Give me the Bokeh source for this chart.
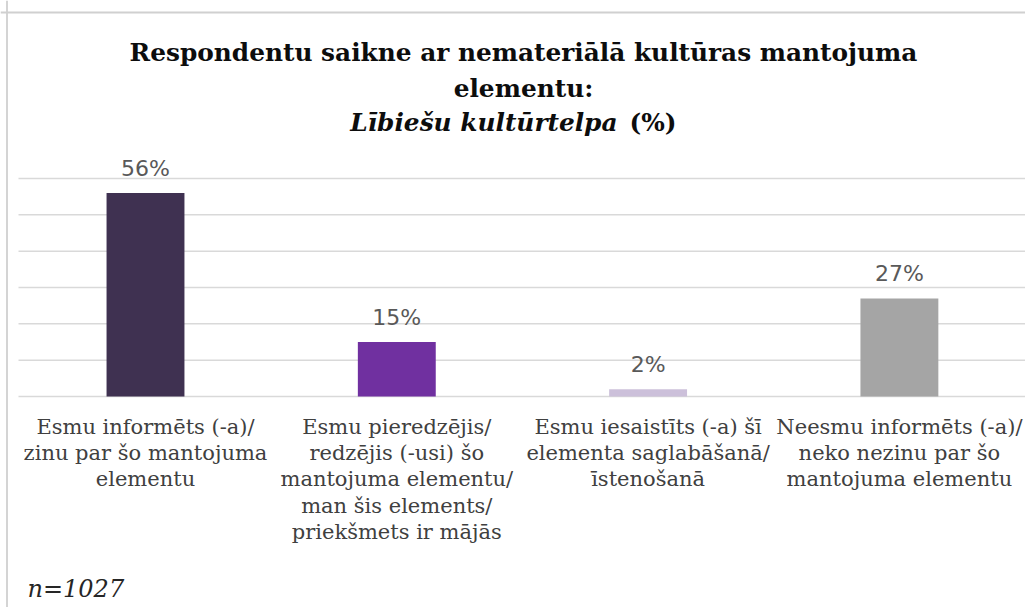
from bokeh.plotting import figure
from bokeh.models import Range1d, Label, Span, ColumnDataSource
from bokeh.core.properties import value
from bokeh.embed import file_html
from bokeh.resources import INLINE

# ---- data ----
categories = [
    "Esmu informēts (-a)/\nzinu par šo mantojuma\nelementu",
    "Esmu pieredzējis/\nredzējis (-usi) šo\nmantojuma elementu/\nman šis elements/\npriekšmets ir mājās",
    "Esmu iesaistīts (-a) šī\nelementa saglabāšanā/\nīstenošanā",
    "Neesmu informēts (-a)/\nneko nezinu par šo\nmantojuma elementu",
]
values = [56, 15, 2, 27]
value_labels = ["56%", "15%", "2%", "27%"]
bar_colors = ["#3F3151", "#7030A0", "#CCC0DA", "#A5A5A5"]
grid_ticks = [0, 10, 20, 30, 40, 50, 60]
title_line1 = "Respondentu saikne ar nemateriālā kultūras mantojuma"
title_line2 = "elementu:"
title_italic = "Lībiešu kultūrtelpa"
title_tail = "(%)"
note = "n=1027"

# ---- layout (pixel geometry of the canvas) ----
W, H = 1025, 607
XS = 251.3            # px per category
X0 = -145.0 / XS      # data x at canvas left
YS = 3.633            # px per percent
Y0 = 396.0            # canvas y of value 0
YT = Y0 / YS          # data y at canvas top


def cx(px):
    return X0 + px / XS


def cy(px):
    return YT - px / YS


p = figure(width=W, height=H, output_backend="svg", toolbar_location=None,
           x_axis_type=None, y_axis_type=None, min_border=0,
           x_range=Range1d(cx(0), cx(W)), y_range=Range1d(cy(H), cy(0)))
p.outline_line_color = None
p.background_fill_color = "white"
p.border_fill_color = "white"
p.xgrid.visible = False
p.ygrid.visible = False

# horizontal gridlines at the value ticks
p.segment(x0=[cx(18)] * len(grid_ticks), x1=[cx(W)] * len(grid_ticks),
          y0=grid_ticks, y1=grid_ticks, line_color="#D9D9D9", line_width=1.5)

xs = list(range(len(categories)))
src = ColumnDataSource(dict(x=xs, top=values, color=bar_colors,
                            lab=value_labels, cat=categories,
                            zero=[0] * len(xs)))

p.vbar(x="x", top="top", bottom=0, width=0.31, fill_color="color",
       line_color=None, source=src)

p.text(x="x", y="top", text="lab", source=src, text_align="center",
       text_baseline="bottom", y_offset=-12,
       text_font=value("DejaVu Sans"), text_font_size="22px",
       text_color="#595959")

p.text(x="x", y="zero", text="cat", source=src, text_align="center",
       text_baseline="top", y_offset=18, text_line_height=1.1,
       text_font=value("DejaVu Serif"), text_font_size="21px",
       text_color="#404040")

# ---- title ----
tfont = "DejaVu Serif"
p.add_layout(Label(x=cx(523), y=cy(52), text=title_line1, text_align="center",
                   text_baseline="alphabetic", text_font=tfont,
                   text_font_size="24.8px", text_font_style="bold",
                   text_color="#0D0D0D"))
p.add_layout(Label(x=cx(523), y=cy(88), text=title_line2, text_align="center",
                   text_baseline="alphabetic", text_font=tfont,
                   text_font_size="24.8px", text_font_style="bold",
                   text_color="#0D0D0D"))
p.add_layout(Label(x=cx(617), y=cy(122), text=title_italic, text_align="right",
                   text_baseline="alphabetic", text_font=tfont,
                   text_font_size="24.8px", text_font_style="bold italic",
                   text_color="#0D0D0D"))
p.add_layout(Label(x=cx(629), y=cy(122), text=title_tail, text_align="left",
                   text_baseline="alphabetic", text_font=tfont,
                   text_font_size="24.8px", text_font_style="bold",
                   text_color="#0D0D0D"))

# ---- note ----
p.add_layout(Label(x=cx(27), y=cy(588), text=note, text_align="left",
                   text_baseline="alphabetic", text_font=tfont,
                   text_font_size="24px", text_font_style="italic",
                   text_color="#262626"))

# ---- frame border (left and top) ----
p.add_layout(Span(location=cx(6.5), dimension="height",
                  line_color="#D0D0D0", line_width=1.8))
p.add_layout(Span(location=cy(12), dimension="width",
                  line_color="#D0D0D0", line_width=1.8))

open("out.html", "w").write(file_html(p, INLINE))
